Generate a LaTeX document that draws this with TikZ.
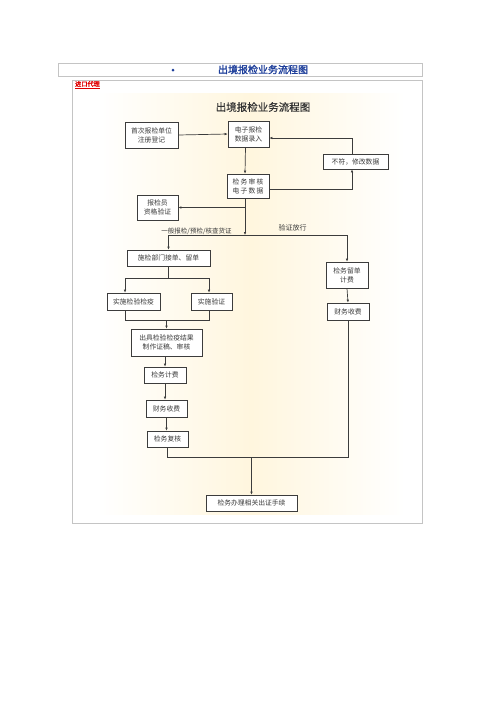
\documentclass[tikz,border=0pt]{standalone}
\usepackage{fontspec}
\setmainfont{Noto Sans CJK SC}
\newfontfamily\cjkbold[FakeBold=1.6]{Noto Sans CJK SC}
\newfontfamily\cjksemi[FakeBold=0.6]{Noto Sans CJK SC}
\usetikzlibrary{arrows.meta,calc}
\definecolor{boxline}{HTML}{3C3C3C}
\definecolor{txt}{HTML}{3A3A3A}
\definecolor{panelline}{HTML}{C4C4C4}
\definecolor{cream}{HTML}{FFF6DE}
\definecolor{headblue}{HTML}{1D3E9A}
\definecolor{redlink}{HTML}{E00000}
\tikzset{
  box/.style={draw=boxline, line width=0.7pt, fill=white, inner sep=0pt, align=center,
    font=\fontsize{6.8}{9}\selectfont, text=txt},
  arr/.style={draw=boxline, line width=0.7pt, -{Latex[length=3pt,width=2.6pt]}},
  ln/.style={draw=boxline, line width=0.7pt},
  lbl/.style={font=\fontsize{6.5}{8}\selectfont, text=txt, inner sep=0pt}
}
\begin{document}
\begin{tikzpicture}[x=1pt,y=-1pt]
\useasboundingbox (0,0) rectangle (496,702);
\fill[white] (0,0) rectangle (496,702);
% header bar
\draw[panelline, line width=0.7pt, fill=white] (58,63) rectangle (422,76);
\node[circle, fill=headblue, inner sep=0pt, minimum size=3pt] (bullet) at (173,70) {};
\node[font=\cjkbold\fontsize{10}{10}\selectfont, text=headblue, inner sep=0pt] (head) at (263,69.5) {出境报检业务流程图};
% panel
\draw[panelline, line width=0.8pt, fill=white] (72,80) rectangle (422,523);
\shade[left color=white, right color=white, middle color=cream] (97,93) rectangle (405,514);
\node[font=\cjkbold\fontsize{6.2}{6.2}\selectfont, text=redlink, inner sep=0pt] (link) at (87.5,85) {\underline{进口代理}};
\node[font=\cjksemi\fontsize{10.5}{10.5}\selectfont, text=black!80, inner sep=0pt] (title) at (263,107) {出境报检业务流程图};
% nodes
\node[box, minimum width=53pt, minimum height=26pt] (first) at (151.5,135) {首次报检单位\\注册登记};
\node[box, minimum width=41pt, minimum height=26pt] (entry) at (248.5,134) {电子报检\\数据录入};
\node[box, minimum width=65pt, minimum height=15pt] (bufu) at (355.5,161.5) {不符，修改数据};
\node[box, minimum width=42pt, minimum height=24pt] (audit) at (248,186) {检\,务\,审\,核\\电\,子\,数\,据};
\node[box, minimum width=41pt, minimum height=25pt] (qual) at (157.5,207.5) {报检员\hspace{7pt}\\资格验证};
\node[box, minimum width=83pt, minimum height=16pt] (dept) at (168.5,258) {施检部门接单、留单};
\node[box, minimum width=42pt, minimum height=26pt] (keep) at (347,275) {检务留单\\计费};
\node[box, minimum width=53pt, minimum height=17pt] (exam) at (133.5,301.5) {实施检验检疫};
\node[box, minimum width=41pt, minimum height=17pt] (verify) at (211.5,301.5) {实施验证};
\node[box, minimum width=42pt, minimum height=17pt] (fee2) at (348,311.5) {财务收费};
\node[box, minimum width=71pt, minimum height=27pt] (result) at (166.5,342.5) {出具检验检疫结果\\制作证稿、审核};
\node[box, minimum width=42pt, minimum height=16pt] (charge) at (165,375) {检务计费};
\node[box, minimum width=41pt, minimum height=17pt] (fee1) at (166.5,408.5) {财务收费};
\node[box, minimum width=41pt, minimum height=16pt] (review) at (167.5,439) {检务复核};
\node[box, minimum width=91pt, minimum height=16pt] (final) at (251.5,503) {检务办理相关出证手续};
% labels
\node[lbl] (lab1) at (196.5,231.5) {一般报检/预检/核查货证};
\node[lbl, font=\fontsize{7}{8}\selectfont] (lab2) at (292.5,228) {验证放行};
% junction coordinates
\coordinate (j) at ($(audit.south)+(-3,0)$);
\coordinate (jj) at (j |- 0,235);
\coordinate (s1) at (dept.south |- 0,278);
\coordinate (m1) at (result.north |- 0,320);
\coordinate (m2) at (review.south |- 0,457);
\coordinate (exn) at ($(exam.north)+(-8.5,0)$);
\coordinate (vrn) at ($(verify.north)+(-2.5,0)$);
% connectors
\draw[arr] (first.east) -- (entry.west);
\draw[arr] ($(entry.south)+(-3,0)$) -- ($(audit.north)+(-3,0)$);
\draw[arr] ($(audit.east)+(0,3)$) -| ($(bufu.south)+(-3.5,0)$);
\draw[arr] ($(bufu.north)+(-3.5,0)$) |- ($(entry.east)+(0,4)$);
\draw[arr] (j) -- (jj);
\draw[arr] (j |- qual.east) -- (qual.east);
\draw[ln] (dept.north |- jj) -- (keep.north |- jj);
\draw[arr] (dept.north |- jj) -- (dept.north);
\draw[arr] (keep.north |- jj) -- (keep.north);
\draw[arr] (keep.south) -- (fee2.north);
\draw[ln] (dept.south) -- (s1);
\draw[ln] (exn |- s1) -- (vrn |- s1);
\draw[arr] (exn |- s1) -- (exn);
\draw[arr] (vrn |- s1) -- (vrn);
\draw[ln] (exn |- exam.south) -- (exn |- m1) -- (vrn |- m1) -- (vrn |- verify.south);
\draw[arr] (m1) -- (result.north);
\draw[arr] (result.south -| charge.north) -- (charge.north);
\draw[arr] (charge.south) -- (charge.south |- fee1.north);
\draw[arr] (fee1.south) -- (fee1.south |- review.north);
\draw[ln] (review.south) -- (m2) -- (m2 -| fee2.south) -- (fee2.south);
\draw[arr] (m2 -| final.north) -- (final.north);
\end{tikzpicture}
\end{document}
